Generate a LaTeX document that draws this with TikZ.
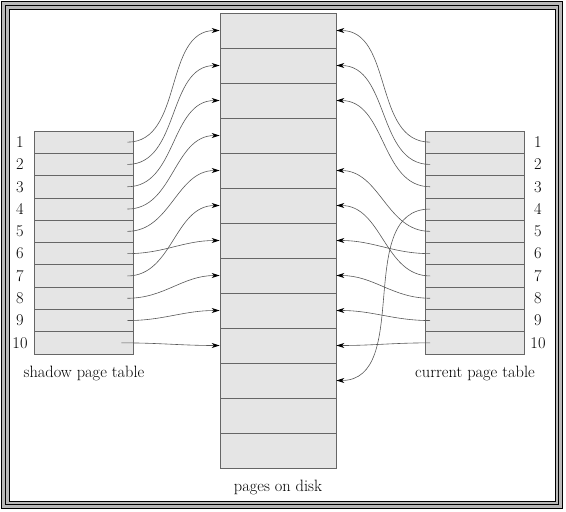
\documentclass[tikz,border=0pt]{standalone}
\usetikzlibrary{arrows.meta}
\definecolor{rowgray}{gray}{0.9}
\definecolor{linkgray}{gray}{0.35}

\begin{document}
\begin{tikzpicture}[x=1pt, y=-1pt, every node/.style={font=\fontsize{16.4}{19}\selectfont}]
        \tikzstyle{diskrow} = [rectangle,draw=black!60,fill=rowgray,line width=0.8pt, minimum width=116pt, minimum height=35pt, inner sep=0pt]
        \tikzstyle{tabrow} = [rectangle,draw=black!60,fill=rowgray,line width=0.8pt, minimum width=99pt, minimum height=22.3pt, inner sep=0pt]
        \tikzstyle{link} = [draw=linkgray, line width=0.6pt, -{Stealth[length=8pt, width=5pt, black]}]

        \useasboundingbox (0,0) rectangle (566,512);

        % frame
        \draw[black, line width=1pt, fill=gray!55] (1,1) rectangle (562,508);
        \draw[black, line width=0.8pt] (5,5) rectangle (558.5,504.5);
        \draw[black, line width=1pt, fill=white] (9,9) rectangle (555,501);

        % pages on disk
        \foreach \i in {1,...,13}
            \node[diskrow] (dk\i) at (278, {13+35*(\i-0.5)}) {};

        % shadow and current page tables
        \foreach \i in {1,...,10}{
            \node[tabrow] (sh\i) at (83.5, {131+22.3*(\i-0.5)}) {};
            \node[tabrow] (cu\i) at (475, {131+22.3*(\i-0.5)}) {};
            \node (shn\i) at (20, {131+22.3*(\i-0.5)}) {\i};
            \node (cun\i) at (538, {131+22.3*(\i-0.5)}) {\i};
            \coordinate (ls\i) at ([xshift=-6pt]sh\i.east);
            \coordinate (rs\i) at ([xshift=5pt]cu\i.west);
        }
        \coordinate (ls10) at ([xshift=-12pt]sh10.east);

        \node (shlabel) at (84,373) {shadow page table};
        \node (culabel) at (475,373) {current page table};
        \node (dklabel) at (278,487) {pages on disk};

        % pointers
        \foreach \s/\d in {1/1,2/2,3/3,4/4,5/5,6/7,7/6,8/8,9/9,10/10}
            \draw[link] (ls\s) to[out=0, in=180] (dk\d.west);
        \foreach \s/\d in {1/1,2/2,3/3,4/11,5/5,6/7,7/6,8/8,9/9,10/10}
            \draw[link] (rs\s) to[out=180, in=0] (dk\d.east);

    \end{tikzpicture}
\end{document}
